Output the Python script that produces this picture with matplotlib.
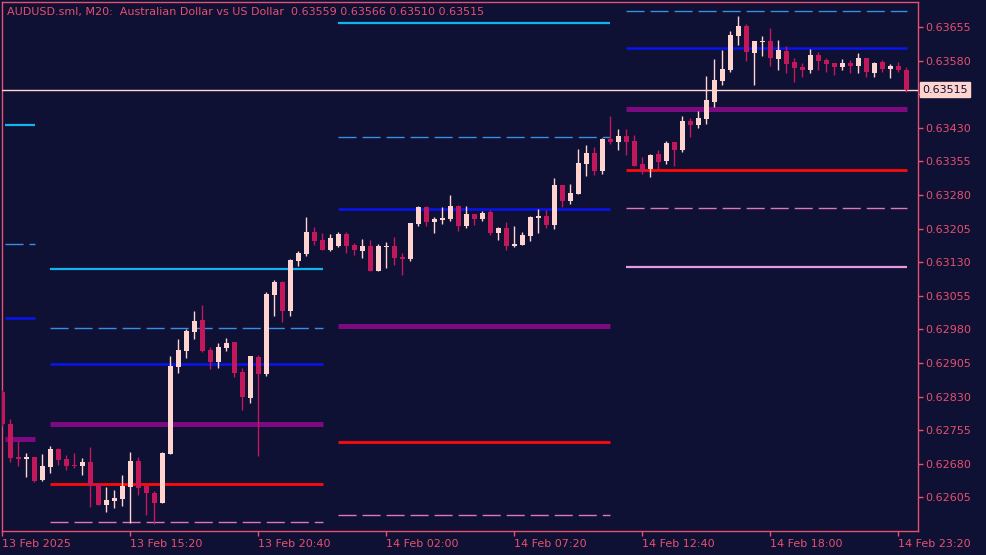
import matplotlib
matplotlib.use("Agg")
import matplotlib.pyplot as plt
import matplotlib.transforms as mtransforms
import numpy as np

# ---------------- data ----------------
opens = [0.62840, 0.62769, 0.62695, 0.62690, 0.62695, 0.62644, 0.62673, 0.62713, 0.62690, 0.62677,
         0.62675, 0.62684, 0.62635, 0.62588, 0.62597, 0.62601, 0.62628, 0.62686, 0.62630, 0.62615,
         0.62592, 0.62702, 0.62896, 0.62932, 0.62974, 0.63001, 0.62934, 0.62907, 0.62938, 0.62952,
         0.62885, 0.62827, 0.62918, 0.62880, 0.63057, 0.63086, 0.63021, 0.63132, 0.63148, 0.63197,
         0.63179, 0.63157, 0.63166, 0.63193, 0.63168, 0.63155, 0.63166, 0.63110, 0.63164, 0.63166,
         0.63141, 0.63137, 0.63215, 0.63253, 0.63220, 0.63224, 0.63226, 0.63255, 0.63211, 0.63237,
         0.63226, 0.63242, 0.63195, 0.63206, 0.63166, 0.63168, 0.63188, 0.63228, 0.63233, 0.63213,
         0.63302, 0.63266, 0.63282, 0.63349, 0.63373, 0.63333, 0.63405, 0.63398, 0.63411, 0.63400,
         0.63349, 0.63338, 0.63371, 0.63356, 0.63398, 0.63380, 0.63445, 0.63436, 0.63449, 0.63487,
         0.63534, 0.63559, 0.63635, 0.63657, 0.63597, 0.63621, 0.63623, 0.63583, 0.63601, 0.63577,
         0.63565, 0.63559, 0.63592, 0.63581, 0.63574, 0.63565, 0.63574, 0.63568, 0.63585, 0.63552,
         0.63577, 0.63561, 0.63568, 0.63559]
highs = [0.62845, 0.62780, 0.62731, 0.62704, 0.62695, 0.62702, 0.62720, 0.62715, 0.62699, 0.62704,
         0.62693, 0.62717, 0.62635, 0.62628, 0.62621, 0.62655, 0.62706, 0.62695, 0.62632, 0.62619,
         0.62706, 0.62920, 0.62958, 0.62981, 0.63021, 0.63034, 0.62940, 0.62949, 0.62961, 0.62952,
         0.62894, 0.62920, 0.62923, 0.63063, 0.63090, 0.63088, 0.63137, 0.63155, 0.63231, 0.63208,
         0.63195, 0.63193, 0.63197, 0.63197, 0.63173, 0.63182, 0.63179, 0.63170, 0.63175, 0.63186,
         0.63150, 0.63217, 0.63255, 0.63255, 0.63231, 0.63253, 0.63280, 0.63257, 0.63255, 0.63237,
         0.63244, 0.63246, 0.63208, 0.63220, 0.63211, 0.63197, 0.63233, 0.63248, 0.63246, 0.63318,
         0.63302, 0.63304, 0.63382, 0.63391, 0.63387, 0.63407, 0.63456, 0.63427, 0.63427, 0.63414,
         0.63365, 0.63371, 0.63380, 0.63400, 0.63398, 0.63456, 0.63452, 0.63467, 0.63545, 0.63583,
         0.63603, 0.63646, 0.63679, 0.63661, 0.63623, 0.63635, 0.63652, 0.63626, 0.63612, 0.63585,
         0.63574, 0.63606, 0.63599, 0.63585, 0.63574, 0.63583, 0.63581, 0.63597, 0.63585, 0.63577,
         0.63581, 0.63572, 0.63577, 0.63566]
lows = [0.62764, 0.62684, 0.62675, 0.62650, 0.62639, 0.62641, 0.62659, 0.62677, 0.62666, 0.62670,
        0.62655, 0.62583, 0.62588, 0.62572, 0.62581, 0.62586, 0.62548, 0.62610, 0.62565, 0.62545,
        0.62592, 0.62702, 0.62882, 0.62916, 0.62958, 0.62929, 0.62891, 0.62894, 0.62932, 0.62873,
        0.62800, 0.62815, 0.62697, 0.62876, 0.63010, 0.62996, 0.63010, 0.63121, 0.63144, 0.63168,
        0.63157, 0.63155, 0.63164, 0.63150, 0.63146, 0.63139, 0.63110, 0.63110, 0.63117, 0.63124,
        0.63101, 0.63132, 0.63211, 0.63211, 0.63195, 0.63215, 0.63222, 0.63199, 0.63206, 0.63213,
        0.63222, 0.63190, 0.63179, 0.63157, 0.63164, 0.63168, 0.63177, 0.63195, 0.63206, 0.63204,
        0.63253, 0.63260, 0.63282, 0.63322, 0.63324, 0.63327, 0.63394, 0.63380, 0.63369, 0.63344,
        0.63327, 0.63320, 0.63336, 0.63349, 0.63344, 0.63376, 0.63409, 0.63429, 0.63438, 0.63476,
        0.63525, 0.63554, 0.63615, 0.63579, 0.63525, 0.63590, 0.63568, 0.63559, 0.63552, 0.63532,
        0.63543, 0.63552, 0.63559, 0.63554, 0.63548, 0.63559, 0.63552, 0.63552, 0.63543, 0.63543,
        0.63554, 0.63541, 0.63554, 0.63510]
closes = [0.62769, 0.62693, 0.62690, 0.62695, 0.62641, 0.62675, 0.62713, 0.62688, 0.62675, 0.62675,
          0.62684, 0.62630, 0.62588, 0.62599, 0.62603, 0.62630, 0.62686, 0.62626, 0.62615, 0.62592,
          0.62704, 0.62898, 0.62934, 0.62976, 0.62998, 0.62932, 0.62907, 0.62940, 0.62949, 0.62882,
          0.62829, 0.62920, 0.62880, 0.63059, 0.63086, 0.63021, 0.63135, 0.63150, 0.63197, 0.63177,
          0.63157, 0.63184, 0.63193, 0.63166, 0.63157, 0.63166, 0.63110, 0.63166, 0.63166, 0.63139,
          0.63137, 0.63217, 0.63253, 0.63220, 0.63226, 0.63228, 0.63255, 0.63211, 0.63237, 0.63226,
          0.63240, 0.63195, 0.63206, 0.63166, 0.63170, 0.63190, 0.63231, 0.63233, 0.63213, 0.63302,
          0.63266, 0.63284, 0.63351, 0.63373, 0.63333, 0.63405, 0.63398, 0.63411, 0.63398, 0.63344,
          0.63331, 0.63369, 0.63353, 0.63396, 0.63380, 0.63445, 0.63436, 0.63452, 0.63492, 0.63536,
          0.63561, 0.63637, 0.63657, 0.63599, 0.63623, 0.63623, 0.63585, 0.63603, 0.63572, 0.63563,
          0.63559, 0.63592, 0.63579, 0.63572, 0.63565, 0.63574, 0.63568, 0.63585, 0.63554, 0.63574,
          0.63561, 0.63568, 0.63559, 0.63515]

# x tick labels every 16 bars (M20)
xtick_bars = [0, 16, 32, 48, 64, 80, 96, 112]
xtick_labels = ["13 Feb 2025", "13 Feb 15:20", "13 Feb 20:40", "14 Feb 02:00",
                "14 Feb 07:20", "14 Feb 12:40", "14 Feb 18:00", "14 Feb 23:20"]
ytick_values = [0.62605, 0.62680, 0.62755, 0.62830, 0.62905, 0.62980, 0.63055, 0.63130,
                0.63205, 0.63280, 0.63355, 0.63430, 0.63505, 0.63580, 0.63655]

# pivot-level sessions (bar index where each segment starts / ends)
seg_start = [0.3, 6.0, 42.0, 78.0]
seg_end = [4.1, 40.1, 76.0, 113.1]
r2 = [0.63436, 0.63115, 0.63664, None]
r_mid = [0.63170, 0.62984, 0.63409, 0.63690]
r1 = [0.63005, 0.62903, 0.63248, 0.63608]
pivot = [0.62735, 0.62769, 0.62987, 0.63472]
s1 = [None, 0.62635, 0.62728, 0.63336]
s_mid = [None, 0.62551, 0.62565, 0.63251]
s2 = [None, None, None, 0.63119]

last_price = 0.63515
title = "AUDUSD.sml, M20:  Australian Dollar vs US Dollar  0.63559 0.63566 0.63510 0.63515"

# ---------------- style ----------------
BG = "#0e1034"
FG = "#e8506e"
BULL = "#ffd3ce"
BEAR = "#c2185b"

W, H = 987, 555
fig = plt.figure(figsize=(W / 100, H / 100), dpi=100)
fig.patch.set_facecolor(BG)
ax = fig.add_axes([2 / W, 1 - 531 / H, (918.4 - 2) / W, (531 - 2) / H])
ax.set_facecolor(BG)

n = len(opens)
x = np.arange(n)
o = np.array(opens); c = np.array(closes)
hi = np.array(highs); lo = np.array(lows)
bull = c >= o
colors = np.where(bull, BULL, BEAR)

# wicks
ax.vlines(x, lo, hi, colors=colors, linewidth=1.0, zorder=3)
# bodies
bottom = np.minimum(o, c)
height = np.maximum(np.abs(c - o), 0.000025)
ax.bar(x, height, bottom=bottom, width=0.62, color=colors, linewidth=0, zorder=4)

# pivot levels
def draw_level(vals, color, lw, dashed=False, z=2):
    for s, e, v in zip(seg_start, seg_end, vals):
        if v is None:
            continue
        if dashed:
            ax.plot([s, e], [v, v], color=color, linewidth=1.0,
                    linestyle=(0, (13, 4.3)), zorder=z, solid_capstyle="butt")
        else:
            ax.plot([s, e], [v, v], color=color, linewidth=lw, zorder=z,
                    solid_capstyle="butt")

draw_level(r2, "#10b4ee", 1.6)
draw_level(r_mid, "#3a8ee0", 1.0, dashed=True)
draw_level(r1, "#0a14f0", 1.8)
draw_level(pivot, "#7d0a80", 3.6)
draw_level(s1, "#ff0a0a", 2.0)
draw_level(s_mid, "#dc78b4", 1.0, dashed=True)
draw_level(s2, "#e49be4", 1.6)

# current price line
ax.axhline(last_price, color="#ffd8d2", linewidth=1.0, zorder=2.6)

ax.set_xlim(-0.04, 114.5)
ax.set_ylim(0.625298, 0.637106)

for sp in ax.spines.values():
    sp.set_color(FG)
    sp.set_linewidth(1.0)

ax.yaxis.tick_right()
ax.set_yticks(ytick_values)
# the tick under the current-price box is covered, so its label is left blank
ax.set_yticklabels(["" if abs(v - last_price) < 0.0002 else f"{v:.5f}" for v in ytick_values])
ax.set_xticks(xtick_bars)
ax.set_xticklabels(xtick_labels)
ax.tick_params(axis="y", direction="out", length=3.6, width=1, color=FG,
               labelcolor=FG, labelsize=8, pad=1)
ax.tick_params(axis="x", direction="out", length=3.6, width=1, color=FG,
               labelcolor=FG, labelsize=8, pad=2)
for lbl in ax.get_xticklabels():
    lbl.set_horizontalalignment("left")

# price label box
trans = mtransforms.blended_transform_factory(ax.transAxes, ax.transData)
ax.text(1.0045, last_price, f"{last_price:.5f}", transform=trans, ha="left", va="center",
        fontsize=8, color=BG, zorder=10, clip_on=False,
        bbox=dict(boxstyle="square,pad=0.2", facecolor=BULL, edgecolor=BULL))

fig.text(7 / W, 1 - 11.5 / H, title, ha="left", va="center", fontsize=8, color=FG)

fig.savefig("out.png", dpi=100, facecolor=BG)
